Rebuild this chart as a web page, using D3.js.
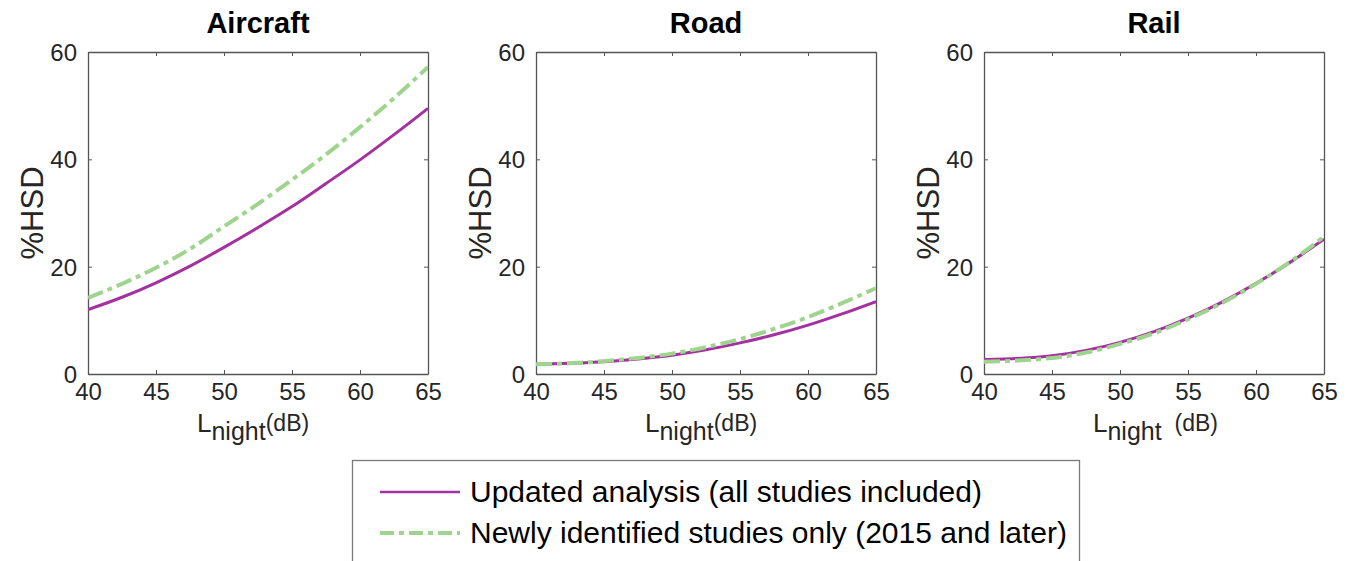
<!DOCTYPE html>
<html>
<head>
<meta charset="utf-8">
<script src="https://cdn.jsdelivr.net/npm/d3@7"></script>
<style>
  body { margin: 0; background: #fff; }
  svg { font-family: "Liberation Sans", Arial, sans-serif; }
</style>
</head>
<body>
<div id="chart"></div>
<script>
// ---- data ----
var lnight = [40, 42.5, 45, 47.5, 50, 52.5, 55, 57.5, 60, 62.5, 65];
var panels = ["Aircraft", "Road", "Rail"];
var updated = {
  Aircraft: [12.0, 14.3, 17.0, 20.1, 23.6, 27.3, 31.2, 35.5, 39.9, 44.6, 49.5],
  Road:     [1.8, 2.0, 2.3, 2.8, 3.5, 4.5, 5.8, 7.3, 9.1, 11.2, 13.5],
  Rail:     [2.7, 2.9, 3.4, 4.4, 5.9, 7.9, 10.4, 13.4, 16.9, 20.8, 25.1]
};
var newer = {
  Aircraft: [14.2, 16.8, 19.8, 23.3, 27.5, 31.7, 36.2, 40.9, 46.0, 51.4, 57.2],
  Road:     [1.8, 2.0, 2.4, 3.0, 3.8, 5.0, 6.5, 8.4, 10.6, 13.2, 16.0],
  Rail:     [2.3, 2.5, 3.0, 4.0, 5.6, 7.6, 10.2, 13.2, 16.8, 20.9, 25.6]
};
var xTicks = [40, 45, 50, 55, 60, 65];
var yTicks = [0, 20, 40, 60];
var legendLabels = ["Updated analysis (all studies included)", "Newly identified studies only (2015 and later)"];

var cfg = {
  w: 1351, h: 561,
  left: [88, 536, 984],
  pw: 340,
  top: 52, ph: 322,
  purple: "#a3319f",
  green: "#9fd48f",
  axis: "#262626"
};

var svg = d3.select("#chart").append("svg")
  .attr("width", cfg.w)
  .attr("height", cfg.h);

var x = d3.scaleLinear().domain([40, 65]).range([0, cfg.pw]);
var y = d3.scaleLinear().domain([0, 60]).range([cfg.ph, 0]);

var line = d3.line()
  .x(function(d) { return x(d[0]); })
  .y(function(d) { return y(d[1]); })
  .curve(d3.curveMonotoneX);

panels.forEach(function(name, i) {
  var g = svg.append("g")
    .attr("transform", "translate(" + cfg.left[i] + "," + cfg.top + ")");

  g.append("clipPath").attr("id", "clip" + i)
    .append("rect").attr("width", cfg.pw).attr("height", cfg.ph);

  // axes, ticks inward, mirrored on top/right
  var axB = g.append("g").attr("transform", "translate(0," + cfg.ph + ")")
    .call(d3.axisBottom(x).tickValues(xTicks).tickSizeInner(-4).tickSizeOuter(0).tickPadding(9));
  var axT = g.append("g")
    .call(d3.axisTop(x).tickValues(xTicks).tickSizeInner(-4).tickSizeOuter(0).tickFormat(""));
  var axL = g.append("g")
    .call(d3.axisLeft(y).tickValues(yTicks).tickSizeInner(-4).tickSizeOuter(0).tickPadding(11));
  var axR = g.append("g").attr("transform", "translate(" + cfg.pw + ",0)")
    .call(d3.axisRight(y).tickValues(yTicks).tickSizeInner(-4).tickSizeOuter(0).tickFormat(""));

  [axB, axT, axL, axR].forEach(function(a) {
    a.select(".domain").attr("stroke", "#555").attr("stroke-width", 1.3);
    a.selectAll(".tick line").attr("stroke", "#555");
    a.selectAll("text").attr("font-size", "24px").attr("fill", cfg.axis)
      .attr("font-family", "Liberation Sans, Arial, sans-serif");
  });
  axB.selectAll("text").attr("dy", "0.72em");
  axL.selectAll("text").attr("dy", "0.36em");

  var plot = g.append("g").attr("clip-path", "url(#clip" + i + ")");

  plot.append("path")
    .datum(lnight.map(function(v, j) { return [v, updated[name][j]]; }))
    .attr("d", line)
    .attr("fill", "none")
    .attr("stroke", cfg.purple)
    .attr("stroke-width", 3);

  plot.append("path")
    .datum(lnight.map(function(v, j) { return [v, newer[name][j]]; }))
    .attr("d", line)
    .attr("fill", "none")
    .attr("stroke", cfg.green)
    .attr("stroke-width", 4)
    .attr("stroke-dasharray", "16,5,5,5");

  // title
  g.append("text")
    .attr("x", cfg.pw / 2).attr("y", -19)
    .attr("text-anchor", "middle")
    .attr("font-size", "29px").attr("font-weight", "bold")
    .attr("fill", "#000")
    .text(name);

  // y label
  g.append("text")
    .attr("transform", "translate(-45," + (cfg.ph / 2) + ")rotate(-90)")
    .attr("text-anchor", "middle")
    .attr("font-size", "31px")
    .attr("fill", cfg.axis)
    .text("%HSD");

  // x label: L_night(dB)
  var xl = g.append("text")
    .attr("x", 109).attr("y", 58 + cfg.ph)
    .attr("fill", cfg.axis);
  xl.append("tspan").attr("font-size", "26px").text("L");
  xl.append("tspan").attr("font-size", "25px").attr("dy", 8).text("night");
  xl.append("tspan").attr("font-size", "23px").attr("dy", -9)
    .text(i === 2 ? "\u00a0\u00a0(dB)" : "(dB)");
});

// legend
var lg = svg.append("g");
lg.append("rect")
  .attr("x", 352.5).attr("y", 460.5)
  .attr("width", 727).attr("height", 130)
  .attr("fill", "#fff").attr("stroke", "#7a7a7a").attr("stroke-width", 1.3);

var legColors = [cfg.purple, cfg.green];
legendLabels.forEach(function(lab, i) {
  var yy = 492 + i * 41;
  lg.append("line")
    .attr("x1", 380).attr("x2", 460).attr("y1", yy).attr("y2", yy)
    .attr("stroke", legColors[i])
    .attr("stroke-width", i === 0 ? 2.5 : 4)
    .attr("stroke-dasharray", i === 0 ? null : "14,5,5,5");
  lg.append("text")
    .attr("x", 470).attr("y", yy + 10)
    .attr("font-size", "30px")
    .attr("fill", "#000")
    .text(lab);
});
</script>
</body>
</html>
